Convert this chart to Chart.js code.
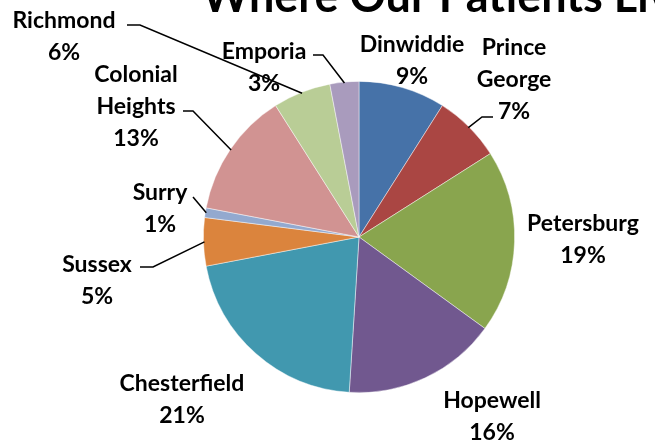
<!DOCTYPE html>
<html>
<head>
<meta charset="utf-8">
<script src="https://cdn.jsdelivr.net/npm/chart.js@4"></script>
<style>
html,body{margin:0;padding:0;background:#fff;}
#wrap{width:655px;height:441px;position:relative;}
</style>
</head>
<body>
<div id="wrap"><canvas id="c" width="655" height="441"></canvas></div>
<script>
// ---- data ----
const titleText = "Where Our Patients Live";
const categories = ["Dinwiddie","Prince George","Petersburg","Hopewell","Chesterfield","Sussex","Surry","Colonial Heights","Richmond","Emporia"];
const values = [9,7,19,16,21,5,1,13,6,3];
const labelLines = [["Dinwiddie"],["Prince","George"],["Petersburg"],["Hopewell"],["Chesterfield"],["Sussex"],["Surry"],["Colonial","Heights"],["Richmond"],["Emporia"]];
const colors = ["#4672A8","#AA4643","#89A54E","#71588F","#4198AF","#DB843D","#93A9CF","#D19392","#B9CD96","#A99BBD"];

// ---- label layout (text centre of first line; optional leader elbow) ----
const labelLayout = [
  {x:412,y:45},
  {x:514,y:48, elbow:{x:482,y:117}, hEnd:493},
  {x:583,y:224},
  {x:492,y:401},
  {x:182,y:384},
  {x:97,y:265, elbow:{x:153,y:267}, hEnd:140},
  {x:160,y:193, elbow:{x:193,y:197}, hEnd:193},
  {x:136,y:75, elbow:{x:193,y:111}, hEnd:183},
  {x:64,y:21, elbow:{x:140,y:25}, hEnd:127},
  {x:264,y:52, elbow:{x:323,y:55}, hEnd:313}
];

const LABEL_FONT = "bold 23px Lato, 'Open Sans', sans-serif";
const LINE_H = 32;

const labelPlugin = {
  id: 'pieLabels',
  afterDatasetsDraw(chart) {
    const ctx = chart.ctx;
    const meta = chart.getDatasetMeta(0);
    const total = values.reduce((a,b)=>a+b,0);
    ctx.save();
    // title
    ctx.fillStyle = '#000';
    ctx.font = "bold 45px Lato, 'Open Sans', sans-serif";
    ctx.textAlign = 'left';
    ctx.textBaseline = 'alphabetic';
    ctx.fillText(titleText, 202, 12);

    ctx.font = LABEL_FONT;
    ctx.textAlign = 'center';
    ctx.textBaseline = 'middle';
    meta.data.forEach((arc, i) => {
      const L = labelLayout[i];
      const lines = labelLines[i].concat([Math.round(values[i]/total*100) + '%']);
      lines.forEach((t, k) => ctx.fillText(t, L.x, L.y + k*LINE_H));
      if (L.elbow) {
        const mid = (arc.startAngle + arc.endAngle)/2;
        const r = arc.outerRadius - 1;
        const px = arc.x + Math.cos(mid)*r;
        const py = arc.y + Math.sin(mid)*r;
        ctx.strokeStyle = '#000';
        ctx.lineWidth = 1.5;
        ctx.beginPath();
        ctx.moveTo(L.hEnd, L.elbow.y);
        ctx.lineTo(L.elbow.x, L.elbow.y);
        ctx.lineTo(px, py);
        ctx.stroke();
      }
    });
    ctx.restore();
  }
};

new Chart(document.getElementById('c'), {
  type: 'pie',
  data: {
    labels: categories,
    datasets: [{
      data: values,
      backgroundColor: colors,
      borderColor: 'rgba(255,255,255,0.6)',
      borderWidth: 0.75
    }]
  },
  options: {
    responsive: false,
    animation: false,
    layout: { padding: { left: 203, right: 140, top: 81, bottom: 48 } },
    plugins: {
      legend: { display: false },
      title: { display: false },
      tooltip: { enabled: false }
    }
  },
  plugins: [labelPlugin]
});
</script>
</body>
</html>
